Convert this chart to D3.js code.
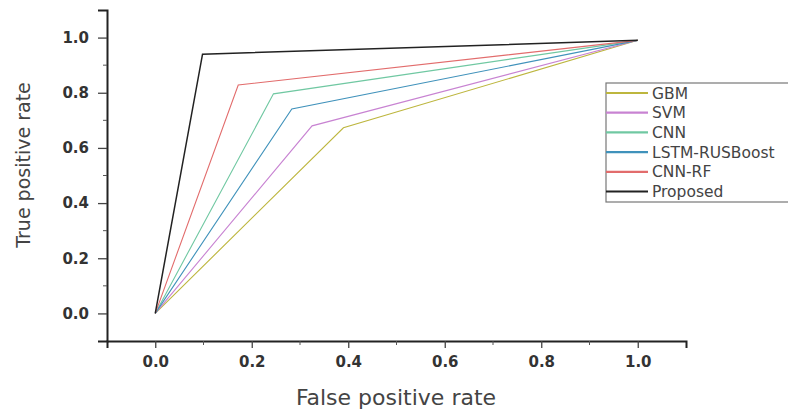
<!DOCTYPE html>
<html>
<head>
<meta charset="utf-8">
<script src="https://cdn.jsdelivr.net/npm/d3@7"></script>
<style>
  body { margin: 0; background: #fff; }
  svg { display: block; font-family: "DejaVu Sans", Arial, sans-serif; }
</style>
</head>
<body>
<div id="chart"></div>
<script>
// ROC points (FPR, TPR)
const seriesNames = ["GBM", "SVM", "CNN", "LSTM-RUSBoost", "CNN-RF", "Proposed"];
const seriesColors = ["#bdb63e", "#c883d2", "#70c8a2", "#4092bb", "#e26c6c", "#222222"];
const fprValues = [
  [0, 0.39, 1.0],
  [0, 0.325, 1.0],
  [0, 0.245, 1.0],
  [0, 0.283, 1.0],
  [0, 0.172, 1.0],
  [0, 0.098, 1.0],
];
const tprValues = [
  [0, 0.673, 0.99],
  [0, 0.68, 0.99],
  [0, 0.796, 0.99],
  [0, 0.741, 0.99],
  [0, 0.828, 0.99],
  [0, 0.94, 0.99],
];
const tickValues = [0, 0.2, 0.4, 0.6, 0.8, 1.0];
const minorTicks = [0.1, 0.3, 0.5, 0.7, 0.9];

const width = 788, height = 413;
const margin = { top: 10, right: 102, bottom: 72, left: 107 };

const svg = d3.select("#chart").append("svg")
  .attr("width", width)
  .attr("height", height);

const x = d3.scaleLinear().domain([-0.1, 1.1]).range([margin.left, width - margin.right]);
const y = d3.scaleLinear().domain([-0.1, 1.1]).range([height - margin.bottom, margin.top]);

// Axes
const xAxis = svg.append("g")
  .attr("transform", `translate(0,${height - margin.bottom})`)
  .call(d3.axisBottom(x).tickValues(tickValues).tickFormat(d3.format(".1f")).tickSizeOuter(0).tickSize(7).tickPadding(8));
const yAxis = svg.append("g")
  .attr("transform", `translate(${margin.left},0)`)
  .call(d3.axisLeft(y).tickValues(tickValues).tickFormat(d3.format(".1f")).tickSizeOuter(0).tickSize(9).tickPadding(9));

[xAxis, yAxis].forEach((a) => {
  a.select(".domain").attr("stroke", "#222").attr("stroke-width", 2);
  a.selectAll(".tick line").attr("stroke", "#444").attr("stroke-width", 1.3);
  a.selectAll("text")
    .attr("fill", "#333")
    .style("font-family", "'DejaVu Sans', sans-serif")
    .style("font-size", "15px")
    .style("font-weight", "bold");
});

// minor ticks
svg.append("g").selectAll("line")
  .data(minorTicks)
  .enter().append("line")
  .attr("x1", (d) => x(d)).attr("x2", (d) => x(d))
  .attr("y1", height - margin.bottom).attr("y2", height - margin.bottom + 4)
  .attr("stroke", "#555");
svg.append("g").selectAll("line")
  .data(minorTicks)
  .enter().append("line")
  .attr("y1", (d) => y(d)).attr("y2", (d) => y(d))
  .attr("x1", margin.left).attr("x2", margin.left - 4)
  .attr("stroke", "#555");

// Lines
const line = d3.line().x((d) => x(d[0])).y((d) => y(d[1]));
seriesNames.forEach((name, i) => {
  const pts = fprValues[i].map((f, j) => [f, tprValues[i][j]]);
  svg.append("path")
    .datum(pts)
    .attr("fill", "none")
    .attr("stroke", seriesColors[i])
    .attr("stroke-width", i === 5 ? 1.5 : 1.1)
    .attr("d", line);
});

// Axis labels
svg.append("text")
  .attr("x", 396)
  .attr("y", 405)
  .attr("text-anchor", "middle")
  .attr("fill", "#444")
  .style("font-size", "22px")
  .text("False positive rate");

svg.append("text")
  .attr("transform", `translate(30,165) rotate(-90)`)
  .attr("text-anchor", "middle")
  .attr("fill", "#444")
  .style("font-size", "19px")
  .text("True positive rate");

// Legend
const legend = svg.append("g").attr("transform", "translate(606,83)");
legend.append("rect")
  .attr("x", 0).attr("y", 0)
  .attr("width", 200).attr("height", 119)
  .attr("fill", "#fff")
  .attr("stroke", "#777")
  .attr("stroke-width", 1.2);
seriesNames.forEach((name, i) => {
  const ly = 10 + i * 19.7;
  legend.append("line")
    .attr("x1", 0).attr("x2", 42)
    .attr("y1", ly).attr("y2", ly)
    .attr("stroke", seriesColors[i])
    .attr("stroke-width", 2.2);
  legend.append("text")
    .attr("x", 46).attr("y", ly + 5.5)
    .attr("fill", "#444")
    .style("font-size", "15.5px")
    .text(name);
});
</script>
</body>
</html>
